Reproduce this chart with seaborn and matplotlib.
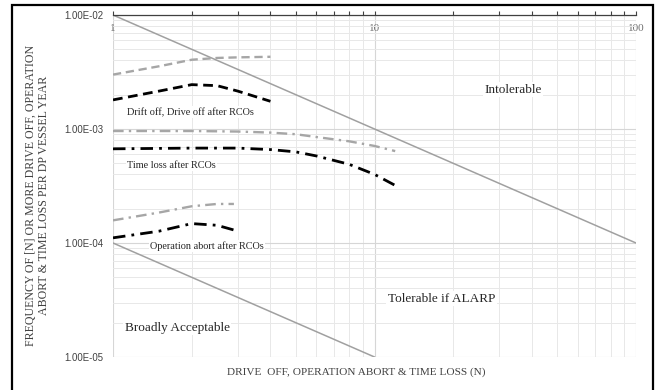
import numpy as np
import pandas as pd
import matplotlib
matplotlib.use("Agg")
import matplotlib.pyplot as plt
from matplotlib.patches import Rectangle
from matplotlib.ticker import LogLocator, NullFormatter, FixedLocator, FixedFormatter
import seaborn as sns

# ---- data ----
crit_upper_x = [1, 100]
crit_upper_y = [1e-2, 1e-4]
crit_lower_x = [1, 10]
crit_lower_y = [1e-4, 1e-5]

drift_x = [1, 1.5, 2, 2.5, 3, 4]
drift_before = [3.0e-3, 3.55e-3, 4.05e-3, 4.2e-3, 4.25e-3, 4.3e-3]
drift_after = [1.8e-3, 2.15e-3, 2.45e-3, 2.4e-3, 2.15e-3, 1.75e-3]

timeloss_x = [1, 2, 3, 4, 5, 6, 8, 10, 12]
timeloss_before = [9.6e-4, 9.6e-4, 9.5e-4, 9.3e-4, 9.0e-4, 8.5e-4, 7.8e-4, 7.1e-4, 6.4e-4]
timeloss_after = [6.7e-4, 6.8e-4, 6.8e-4, 6.6e-4, 6.3e-4, 5.8e-4, 4.9e-4, 4.0e-4, 3.2e-4]

abort_x = [1, 1.5, 2, 2.5, 2.9]
abort_before = [1.58e-4, 1.85e-4, 2.1e-4, 2.2e-4, 2.2e-4]
abort_after = [1.11e-4, 1.27e-4, 1.48e-4, 1.43e-4, 1.30e-4]

x_ticks = [1, 10, 100]
x_ticklabels = ["1", "10", "100"]
y_ticks = [1e-5, 1e-4, 1e-3, 1e-2]
y_ticklabels = ["1.00E-05", "1.00E-04", "1.00E-03", "1.00E-02"]

# ---- style ----
sns.set_theme(style="white")
plt.rcParams["font.family"] = ["Liberation Serif", "DejaVu Serif"]

fig = plt.figure(figsize=(6.58, 3.90), dpi=100)
ax = fig.add_axes([113/658, 1-357/390, (636-113)/658, (357-15)/390])

GRAY = "#a6a6a6"
CRIT = "#a0a0a0"

def draw(x, y, color, ls, lw):
    df = pd.DataFrame({"x": x, "y": y})
    sns.lineplot(data=df, x="x", y="y", ax=ax, color=color, linestyle=ls,
                 linewidth=lw, sort=False, estimator=None, legend=False)

draw(crit_upper_x, crit_upper_y, CRIT, "-", 1.1)
draw(crit_lower_x, crit_lower_y, CRIT, "-", 1.1)

dash = (0, (3.5, 2.0))
dashdot = (0, (4.5, 2.2, 1.0, 2.2))
draw(drift_x, drift_before, GRAY, dash, 1.7)
draw(drift_x, drift_after, "black", dash, 2.0)
draw(timeloss_x, timeloss_before, GRAY, dashdot, 1.7)
draw(timeloss_x, timeloss_after, "black", dashdot, 2.0)
draw(abort_x, abort_before, GRAY, dashdot, 1.7)
draw(abort_x, abort_after, "black", dashdot, 2.0)

ax.set_xscale("log")
ax.set_yscale("log")
ax.set_xlim(1, 100)
ax.set_ylim(1e-5, 1e-2)
ax.set_xlabel("")
ax.set_ylabel("")

# grid
ax.xaxis.set_minor_locator(LogLocator(base=10, subs=np.arange(2, 10)))
ax.yaxis.set_minor_locator(LogLocator(base=10, subs=np.arange(2, 10)))
ax.xaxis.set_minor_formatter(NullFormatter())
ax.yaxis.set_minor_formatter(NullFormatter())
ax.grid(True, which="major", color="#d6d6d6", linewidth=0.8)
ax.grid(True, which="minor", color="#e8e8e8", linewidth=0.7)
ax.set_axisbelow(True)

# ticks
ax.xaxis.set_major_locator(FixedLocator(x_ticks))
ax.xaxis.set_major_formatter(FixedFormatter(x_ticklabels))
ax.yaxis.set_major_locator(FixedLocator(y_ticks))
ax.yaxis.set_major_formatter(FixedFormatter(y_ticklabels))

ax.tick_params(axis="x", which="both", top=True, bottom=False, labeltop=True,
               labelbottom=False, direction="out", length=3, width=0.8,
               color="#404040", pad=-16, labelsize=8, labelcolor="#707070")
ax.tick_params(axis="y", which="both", left=False, right=False, length=0,
               labelsize=6.9, labelcolor="#404040", pad=7)
for lab in ax.get_yticklabels():
    lab.set_fontfamily(["Liberation Sans", "DejaVu Sans"])

for s in ["left", "right", "bottom"]:
    ax.spines[s].set_visible(False)
ax.spines["top"].set_color("#404040")
ax.spines["top"].set_linewidth(0.9)

# annotations
box = dict(facecolor="white", edgecolor="none", pad=1.0)
txtc = "#262626"
ax.text(0.027, 0.716, "Drift off, Drive off after RCOs", transform=ax.transAxes,
        fontsize=7.4, color=txtc, va="center", ha="left", bbox=box)
ax.text(0.027, 0.561, "Time loss after RCOs", transform=ax.transAxes,
        fontsize=7.4, color=txtc, va="center", ha="left", bbox=box)
ax.text(0.071, 0.325, "Operation abort after RCOs", transform=ax.transAxes,
        fontsize=7.4, color=txtc, va="center", ha="left", bbox=box)
ax.text(0.765, 0.781, "Intolerable", transform=ax.transAxes,
        fontsize=9.5, color=txtc, va="center", ha="center", bbox=box)
ax.text(0.628, 0.170, "Tolerable if ALARP", transform=ax.transAxes,
        fontsize=9.5, color=txtc, va="center", ha="center", bbox=box)
ax.text(0.123, 0.086, "Broadly Acceptable", transform=ax.transAxes,
        fontsize=9.5, color=txtc, va="center", ha="center", bbox=box)

# axis titles
fig.text(0.542, 1-372/390, "DRIVE  OFF, OPERATION ABORT & TIME LOSS (N)",
         fontsize=8.1, color="#404040", ha="center", va="center")
fig.text(37/658, 1-195/390,
         "FREQUENCY OF [N] OR MORE DRIVE OFF, OPERATION\nABORT & TIME LOSS PER DP VESSEL YEAR",
         fontsize=8.6, color="#404040", ha="center", va="center", rotation=90,
         multialignment="center", linespacing=1.15)

# outer frame
fig.patches.append(Rectangle((12/658, -0.05), (653-12)/658, 1-5/390+0.05,
                             transform=fig.transFigure, fill=False,
                             edgecolor="black", linewidth=1.6, clip_on=False))

fig.savefig("out.png", dpi=100, facecolor="white")
